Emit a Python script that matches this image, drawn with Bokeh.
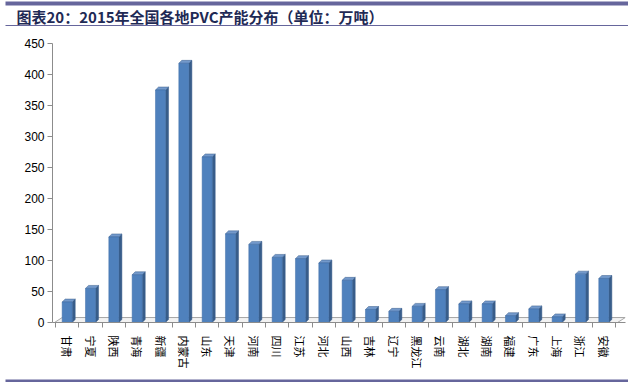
from bokeh.plotting import figure
from bokeh.models import Range1d, FixedTicker
from bokeh.layouts import column
from bokeh.core.properties import value
from bokeh.embed import file_html
from bokeh.resources import INLINE

# ---- data ----
provinces = ["甘肃", "宁夏", "陕西", "青海", "新疆", "内蒙古", "山东", "天津", "河南", "四川",
             "江苏", "河北", "山西", "吉林", "辽宁", "黑龙江", "云南", "湖北", "湖南", "福建",
             "广东", "上海", "浙江", "安徽"]
capacity = [33, 55, 138, 77, 375, 418, 267, 143, 126, 105,
            103, 96, 68, 21, 18, 26, 53, 30, 30, 11,
            22, 9, 78, 71]
y_ticks = [0, 50, 100, 150, 200, 250, 300, 350, 400, 450]
title_text = "图表20：2015年全国各地PVC产能分布（单位：万吨）"

# ---- style ----
FRONT = "#4F81BD"
SIDE = "#385D8A"
TOP = "#7399CB"
AXIS = "#8c8c8c"
PURPLE = "#66669C"
bar_w = 0.43
dx, dy = 0.13, 4.8          # 3D depth of bars (data units)
fdx, fdy = 0.33, 8.0        # 3D depth of floor

W = 628
H_TOP, H_MAIN, H_BOT = 27, 344, 12
xpos = [i + 1 for i in range(len(provinces))]


def deco_figure(h):
    f = figure(width=W, height=h, output_backend="svg", toolbar_location=None,
               x_range=Range1d(0, W), y_range=Range1d(h, 0),
               x_axis_type=None, y_axis_type=None, title=None,
               min_border=0, min_border_left=0, min_border_right=0, min_border_top=0, min_border_bottom=0)
    f.frame_align = False
    f.outline_line_color = None
    f.grid.visible = False
    f.background_fill_color = "white"
    f.border_fill_color = "white"
    return f


# ---- header ----
top = deco_figure(H_TOP)
top.quad(left=[5], right=[W], top=[1], bottom=[5], fill_color=PURPLE, line_color=None)
top.quad(left=[5], right=[W], top=[24.5], bottom=[25.6], fill_color=PURPLE, line_color=None)
top.text(x=[16], y=[16], text=[title_text], text_font=value("Noto Sans CJK SC"),
         text_font_style="bold", text_font_size="15px", text_color="#1F2A55",
         text_baseline="middle", text_align="left")

# ---- main chart ----
p = figure(width=W, height=H_MAIN, output_backend="svg", toolbar_location=None,
           x_range=Range1d(0.371, 24.93), y_range=Range1d(0, 450),
           min_border_left=52, min_border_right=3, min_border_top=16, min_border_bottom=45)
p.frame_align = False
p.outline_line_color = None
p.grid.visible = False
p.background_fill_color = "white"
p.border_fill_color = "white"

# floor
x0, x1 = 0.457, 24.59
p.patch([x0, x1, x1 + fdx, x0 + fdx], [0, 0, fdy, fdy],
        fill_color="#f2f2f2", line_color="#a6a6a6", line_width=1)

# bar side faces
side_xs = [[x + bar_w / 2, x + bar_w / 2 + dx, x + bar_w / 2 + dx, x + bar_w / 2] for x in xpos]
side_ys = [[0, dy, v + dy, v] for v in capacity]
p.patches(side_xs, side_ys, fill_color=SIDE, line_color=SIDE, line_width=0.5)
# bar top faces
top_xs = [[x - bar_w / 2, x + bar_w / 2, x + bar_w / 2 + dx, x - bar_w / 2 + dx] for x in xpos]
top_ys = [[v, v, v + dy, v + dy] for v in capacity]
p.patches(top_xs, top_ys, fill_color=TOP, line_color=SIDE, line_width=0.5)
# bar front faces
p.vbar(x=xpos, top=capacity, bottom=0, width=bar_w, fill_color=FRONT, line_color="#3f6da6", line_width=0.5)

# axes
xa = p.xaxis[0]
xa.ticker = FixedTicker(ticks=xpos, minor_ticks=[i + 0.5 for i in range(len(provinces) + 1)])
xa.major_label_overrides = {x: name for x, name in zip(xpos, provinces)}
xa.major_label_orientation = "vertical"
xa.major_tick_out = 0
xa.major_tick_in = 0
xa.minor_tick_out = 5
xa.minor_tick_in = 0
xa.minor_tick_line_color = AXIS
xa.axis_line_color = AXIS
xa.major_label_standoff = 8
xa.major_label_text_font = "Noto Sans CJK SC"
xa.major_label_text_font_size = "11px"
xa.major_label_text_color = "black"

ya = p.yaxis[0]
ya.ticker = FixedTicker(ticks=y_ticks, minor_ticks=[])
ya.axis_line_color = AXIS
ya.major_tick_line_color = AXIS
ya.major_tick_out = 5
ya.major_tick_in = 0
ya.major_label_standoff = 3
ya.major_label_text_font = "Liberation Sans"
ya.major_label_text_font_size = "12px"
ya.major_label_text_color = "black"

# ---- footer ----
bot = deco_figure(H_BOT)
bot.quad(left=[5], right=[W], top=[8], bottom=[10.5], fill_color=PURPLE, line_color=None)

layout = column(top, p, bot, spacing=0)
open("out.html", "w").write(file_html(layout, INLINE))
